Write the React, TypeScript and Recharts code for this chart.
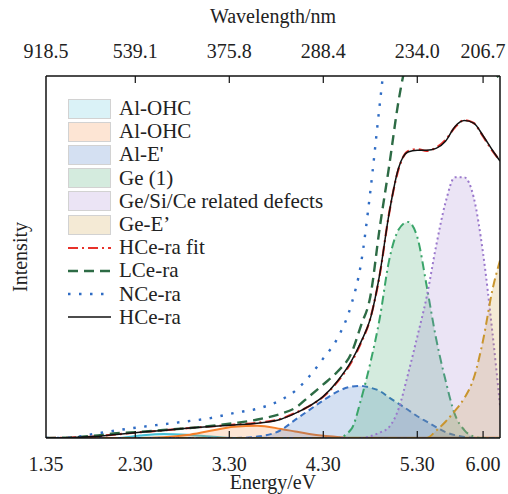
import React from 'react';
import { ComposedChart, Area, Line, XAxis, YAxis, Legend, Label } from 'recharts';

// photon energy grid (eV)
const energy = [
    1.35, 1.6, 1.85, 2.1, 2.35, 2.6, 2.85, 3.1, 3.35, 3.6, 3.85, 4.0, 4.15, 4.3, 4.45, 4.6,
    4.7, 4.8, 4.9, 5.0, 5.1, 5.2, 5.3, 5.4, 5.5, 5.6, 5.7, 5.8, 5.9, 6.0, 6.1, 6.18,
];

// fitted components
const alOhcA = [
    0, 0, 0, 0, 0.007, 0.011, 0.009, 0.004, 0, 0, 0, 0, 0, 0, 0, 0,
    0, 0, 0, 0, 0, 0, 0, 0, 0, 0, 0, 0, 0, 0, 0, 0,
];
const alOhcB = [
    0, 0, 0, 0, 0, 0.002, 0.008, 0.02, 0.031, 0.034, 0.025, 0.018, 0.011, 0.006, 0.003, 0.001,
    0.001, 0.001, 0.001, 0.001, 0.001, 0.001, 0.001, 0.001, 0.001, 0.001, 0.001, 0.001, 0.001, 0.001, 0.001, 0.001,
];
const alE = [
    0, 0, 0, 0, 0, 0, 0, 0, 0, 0.004, 0.022, 0.05, 0.077, 0.104, 0.128, 0.142,
    0.144, 0.139, 0.13, 0.112, 0.095, 0.078, 0.06, 0.045, 0.03, 0.016, 0.008, 0.003, 0, 0, 0, 0,
];
const ge1 = [
    0, 0, 0, 0, 0, 0, 0, 0, 0, 0, 0, 0, 0, 0, 0, 0.025,
    0.105, 0.207, 0.33, 0.49, 0.575, 0.597, 0.555, 0.42, 0.275, 0.16, 0.065, 0.022, 0.004, 0, 0, 0,
];
const geSiCe = [
    0, 0, 0, 0, 0, 0, 0, 0, 0, 0, 0, 0, 0, 0, 0, 0,
    0, 0.005, 0.015, 0.03, 0.08, 0.175, 0.28, 0.39, 0.53, 0.65, 0.72, 0.72, 0.665, 0.51, 0.29, 0.09,
];
const geE = [
    0, 0, 0, 0, 0, 0, 0, 0, 0, 0, 0, 0, 0, 0, 0, 0,
    0, 0, 0, 0, 0, 0, 0, 0, 0.02, 0.045, 0.075, 0.11, 0.165, 0.27, 0.41, 0.49,
];

// measured spectra
const hceFit = [
    0, 0.001, 0.004, 0.01, 0.016, 0.021, 0.027, 0.032, 0.037, 0.042, 0.053, 0.069, 0.088, 0.114, 0.155, 0.21,
    0.262, 0.33, 0.45, 0.62, 0.742, 0.792, 0.798, 0.793, 0.802, 0.823, 0.858, 0.878, 0.87, 0.833, 0.793, 0.766,
];
const lceRa = [
    0, 0.001, 0.006, 0.013, 0.017, 0.022, 0.027, 0.033, 0.041, 0.051, 0.067, 0.083, 0.115, 0.148, 0.183, 0.235,
    0.31, 0.39, 0.58, 0.75, 0.93, 1.06, 1.15, 1.2, 1.22, 1.22, 1.2, 1.16, 1.11, 1.06, 1.02, 0.99,
];
const nceRa = [
    0, 0.001, 0.011, 0.021, 0.03, 0.038, 0.046, 0.055, 0.069, 0.081, 0.105, 0.13, 0.17, 0.22, 0.275, 0.37,
    0.48, 0.68, 0.92, 1.15, 1.35, 1.5, 1.6, 1.65, 1.7, 1.7, 1.7, 1.7, 1.7, 1.7, 1.7, 1.7,
];
const hceRa = [
    0, 0.001, 0.004, 0.01, 0.016, 0.021, 0.027, 0.032, 0.036, 0.041, 0.052, 0.068, 0.088, 0.115, 0.157, 0.213,
    0.265, 0.329, 0.452, 0.62, 0.745, 0.79, 0.795, 0.795, 0.8, 0.82, 0.86, 0.877, 0.87, 0.835, 0.795, 0.765,
];

const tickEnergies = [1.35, 2.3, 3.3, 4.3, 5.3, 6.0];
const energyLabels = ['1.35', '2.30', '3.30', '4.30', '5.30', '6.00'];
const wavelengthLabels = ['918.5', '539.1', '375.8', '288.4', '234.0', '206.7'];

const data = energy.map((e, i) => ({
    e,
    alOhcA: alOhcA[i],
    alOhcB: alOhcB[i],
    alE: alE[i],
    ge1: ge1[i],
    geSiCe: geSiCe[i],
    geE: geE[i],
    hceFit: hceFit[i],
    lceRa: lceRa[i],
    nceRa: nceRa[i],
    hceRa: hceRa[i],
}));

const FONT = '"Liberation Serif", "Times New Roman", serif';

const areas = [
    { key: 'alOhcA', name: 'Al-OHC', color: '#45c0d6', dash: undefined, opacity: 0.2 },
    { key: 'alOhcB', name: 'Al-OHC', color: '#f47f2a', dash: undefined, opacity: 0.2 },
    { key: 'alE', name: "Al-E'", color: '#3a72c4', dash: '6 4', opacity: 0.22 },
    { key: 'ge1', name: 'Ge (1)', color: '#3aa56a', dash: '9 4 2 4', opacity: 0.22 },
    { key: 'geSiCe', name: 'Ge/Si/Ce related defects', color: '#9a78cc', dash: '2 3', opacity: 0.2 },
    { key: 'geE', name: 'Ge-E’', color: '#c9952e', dash: '9 4 2 4', opacity: 0.2 },
];

const lines = [
    { key: 'hceFit', name: 'HCe-ra fit', color: '#e8312a', dash: '10 4 2 4', width: 2.2 },
    { key: 'lceRa', name: 'LCe-ra', color: '#2d6b45', dash: '10 6', width: 2.4 },
    { key: 'nceRa', name: 'NCe-ra', color: '#2f6cc4', dash: '2.5 8.5', width: 2.4 },
    { key: 'hceRa', name: 'HCe-ra', color: '#111111', dash: undefined, width: 1.5 },
];

const BottomTick = (props: any) => {
    const { x, y, index } = props;
    return (
        <g>
            {index > 0 && <line x1={x} x2={x} y1={y} y2={y - 7} stroke="#111" strokeWidth={1.2} />}
            <text x={x} y={y + 33} textAnchor="middle" fontFamily={FONT} fontSize={20} fill="#222">
                {energyLabels[index]}
            </text>
        </g>
    );
};

const TopTick = (props: any) => {
    const { x, y, index } = props;
    return (
        <g>
            {index > 0 && <line x1={x} x2={x} y1={y} y2={y + 7} stroke="#111" strokeWidth={1.2} />}
            <text x={x} y={y - 18} textAnchor="middle" fontFamily={FONT} fontSize={20} fill="#222">
                {wavelengthLabels[index]}
            </text>
        </g>
    );
};

const LegendBox = () => (
    <div style={{ fontFamily: FONT, fontSize: 21, color: '#222', lineHeight: 1 }}>
        {areas.map((a, i) => (
            <div key={'a' + i} style={{ display: 'flex', alignItems: 'center', height: 23.2 }}>
                <div style={{ width: 41, height: 18, border: '1px solid #d2d2d2', position: 'relative' }}>
                    <div style={{ position: 'absolute', inset: 0, background: a.color, opacity: a.opacity }} />
                </div>
                <span style={{ marginLeft: 8, whiteSpace: 'nowrap' }}>{a.name}</span>
            </div>
        ))}
        {lines.map((l, i) => (
            <div key={'l' + i} style={{ display: 'flex', alignItems: 'center', height: 23.2 }}>
                <svg width={43} height={20}>
                    <line x1={0} x2={43} y1={10} y2={10} stroke={l.color} strokeWidth={l.width} strokeDasharray={l.dash} />
                </svg>
                <span style={{ marginLeft: 8, whiteSpace: 'nowrap' }}>{l.name}</span>
            </div>
        ))}
    </div>
);

export default function App() {
    return (
        <div style={{ position: 'absolute', left: 0, top: 0 }}>
            <ComposedChart width={508} height={494} data={data} margin={{ top: 0, right: 0, bottom: 0, left: 0 }}>
                <XAxis
                    dataKey="e"
                    type="number"
                    domain={[1.35, 6.18]}
                    allowDataOverflow
                    ticks={tickEnergies}
                    interval={0}
                    height={56}
                    tickLine={false}
                    tickSize={0}
                    tickMargin={0}
                    tick={<BottomTick />}
                    axisLine={{ stroke: '#111', strokeWidth: 1.5 }}
                >
                    <Label value="Energy/eV" position="insideBottom" offset={5} style={{ fontFamily: FONT, fontSize: 20, fill: '#222' }} />
                </XAxis>
                <XAxis
                    xAxisId="top"
                    orientation="top"
                    dataKey="e"
                    type="number"
                    domain={[1.35, 6.18]}
                    allowDataOverflow
                    ticks={tickEnergies}
                    interval={0}
                    height={76}
                    tickLine={false}
                    tickSize={0}
                    tickMargin={0}
                    tick={<TopTick />}
                    axisLine={{ stroke: '#111', strokeWidth: 1.5 }}
                >
                    <Label value="Wavelength/nm" position="insideTop" offset={9} style={{ fontFamily: FONT, fontSize: 20, fill: '#222' }} />
                </XAxis>
                <YAxis
                    type="number"
                    domain={[0, 1]}
                    allowDataOverflow
                    width={46}
                    tick={false}
                    tickLine={false}
                    axisLine={{ stroke: '#111', strokeWidth: 1.5 }}
                >
                    <Label
                        value="Intensity"
                        angle={-90}
                        position="insideLeft"
                        offset={20}
                        style={{ fontFamily: FONT, fontSize: 20, fill: '#222', textAnchor: 'middle' }}
                    />
                </YAxis>
                <YAxis
                    yAxisId="r"
                    orientation="right"
                    type="number"
                    domain={[0, 1]}
                    width={8}
                    tick={false}
                    tickLine={false}
                    axisLine={{ stroke: '#111', strokeWidth: 1.5 }}
                />
                <Legend
                    content={<LegendBox />}
                    layout="vertical"
                    align="center"
                    verticalAlign="middle"
                    wrapperStyle={{ left: 68, top: 97, width: 'auto' }}
                />
                {areas.map((a) => (
                    <Area
                        key={a.key}
                        dataKey={a.key}
                        name={a.name}
                        type="monotone"
                        stroke={a.color}
                        strokeWidth={2}
                        strokeDasharray={a.dash}
                        fill={a.color}
                        fillOpacity={a.opacity}
                        dot={false}
                        activeDot={false}
                        isAnimationActive={false}
                    />
                ))}
                {lines.map((l) => (
                    <Line
                        key={l.key}
                        dataKey={l.key}
                        name={l.name}
                        type="monotone"
                        stroke={l.color}
                        strokeWidth={l.width}
                        strokeDasharray={l.dash}
                        dot={false}
                        activeDot={false}
                        isAnimationActive={false}
                    />
                ))}
            </ComposedChart>
        </div>
    );
}
